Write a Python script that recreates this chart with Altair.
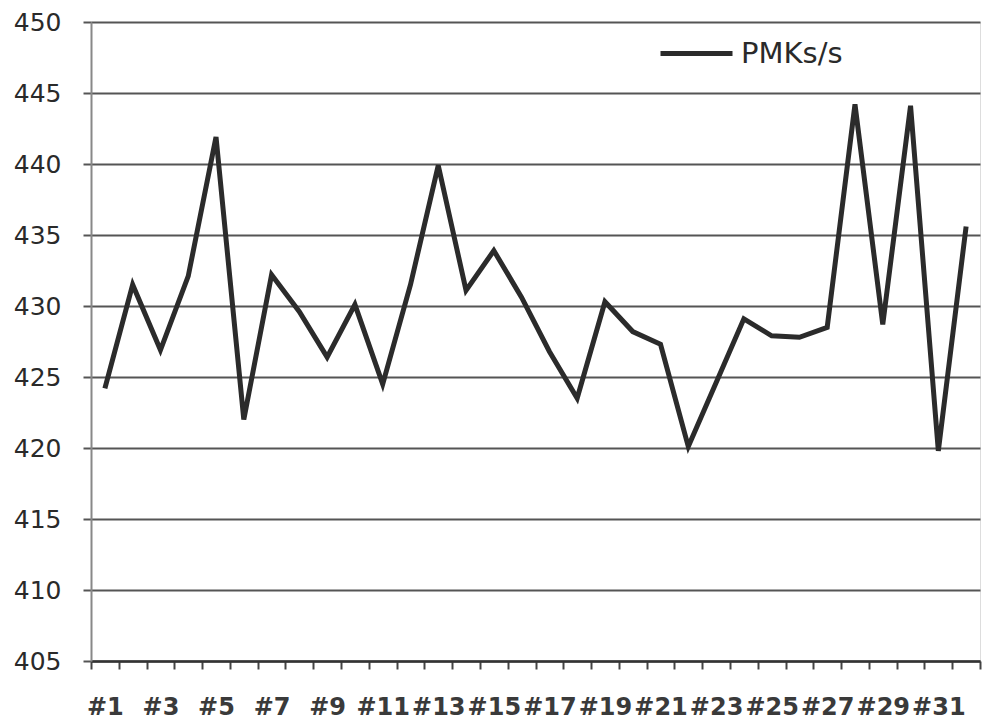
import altair as alt
import pandas as pd

categories = [f"#{i}" for i in range(1, 33)]
values = [424.2, 431.5, 426.9, 432.1, 441.9, 422.0, 432.2, 429.6, 426.4, 430.1,
          424.5, 431.5, 439.9, 431.1, 433.9, 430.6, 426.8, 423.5, 430.3, 428.2,
          427.3, 420.1, 424.6, 429.1, 427.9, 427.8, 428.5, 444.2, 428.7, 444.1,
          419.8, 435.6]
series_name = "PMKs/s"

df = pd.DataFrame({"run": categories, "value": values, "series": series_name})

font = "DejaVu Sans"

line = alt.Chart(df).mark_line(strokeWidth=5, strokeJoin="miter").encode(
    x=alt.X("run:N", sort=categories,
            scale=alt.Scale(type="band", paddingInner=0, paddingOuter=0),
            axis=alt.Axis(title=None, labelAngle=0, tickBand="extent",
                          labelExpr="indexof(['#1','#3','#5','#7','#9','#11','#13','#15','#17','#19','#21','#23','#25','#27','#29','#31'], datum.value) >= 0 ? datum.value : ''",
                          labelFont=font, labelFontSize=24, labelFontWeight="bold",
                          labelColor="#3a3a3a",
                          labelPadding=26, tickSize=8, tickColor="#444", tickWidth=2,
                          domainColor="#333", domainWidth=2.5, grid=False,
                          labelOverlap=False, labelFlush=False)),
    y=alt.Y("value:Q", scale=alt.Scale(domain=[405, 450], nice=False, zero=False),
            axis=alt.Axis(title=None, values=list(range(405, 451, 5)),
                          labelFont=font, labelFontSize=25, labelColor="#2a2a2a",
                          labelPadding=22, tickSize=8, tickColor="#555", tickWidth=2,
                          domainColor="#888", domainWidth=2,
                          gridColor="#555", gridWidth=2)),
    color=alt.Color("series:N", scale=alt.Scale(range=["#2b2b2b"]),
                    legend=alt.Legend(title=None, orient="none", legendX=567, legendY=-7,
                                      symbolType="stroke", symbolSize=5184,
                                      symbolStrokeWidth=5, labelFont=font,
                                      labelFontSize=29, labelColor="#2a2a2a",
                                      padding=0, labelOffset=6)),
)

chart = line.properties(
    width=889, height=639,
    autosize=alt.AutoSizeParams(type="none"),
    padding={"left": 83, "top": 14, "right": 2, "bottom": 62},
).configure_view(stroke=None).configure(background="white")

chart.save("out.html", embed_options={"renderer": "svg", "actions": False})
